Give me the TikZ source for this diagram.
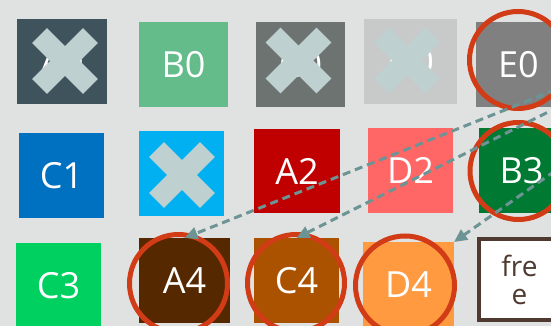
\documentclass[tikz,border=0pt]{standalone}
\usepackage{fontspec}
\setmainfont{Open Sans}
\usetikzlibrary{arrows.meta}

% Colours
\definecolor{cBack}{HTML}{E0E2E1}
\definecolor{cSlate}{HTML}{3F535C}
\definecolor{cMint}{HTML}{64BC8A}
\definecolor{cIron}{HTML}{6C7370}
\definecolor{cSilver}{HTML}{C8CACA}
\definecolor{cGrey}{HTML}{808080}
\definecolor{cBlue}{HTML}{0070C0}
\definecolor{cSky}{HTML}{00B0F0}
\definecolor{cRed}{HTML}{C00000}
\definecolor{cSalmon}{HTML}{FF6666}
\definecolor{cGreen}{HTML}{007A33}
\definecolor{cLime}{HTML}{00D060}
\definecolor{cBrown}{HTML}{552800}
\definecolor{cRust}{HTML}{AB5200}
\definecolor{cOrange}{HTML}{FF9A40}
\definecolor{cFree}{HTML}{4E3A30}
\definecolor{cCross}{HTML}{BFD0D0}
\definecolor{cRing}{HTML}{D13B16}
\definecolor{cMove}{HTML}{6C9494}

% X mark laid over a deleted block
\newcommand{\crossat}[1]{%
  \begin{scope}[shift={(#1)}]
    \fill[cCross, rotate=45] (-36,-10.5) rectangle (36,10.5);
    \fill[cCross, rotate=-45] (-36,-10.5) rectangle (36,10.5);
  \end{scope}}

\begin{document}
\begin{tikzpicture}[
  x=1pt, y=-1pt,
  box/.style={
    minimum width=87pt, minimum height=85pt, inner sep=0pt,
    outer sep=0pt, text=white, font=\fontsize{36}{40}\selectfont
  },
  ring/.style={draw=cRing, line width=5pt},
  move/.style={
    draw=cMove, line width=3pt, dash pattern=on 8pt off 5pt,
    -{Triangle[length=13pt, width=12pt]}
  }
]

  \useasboundingbox (0,0) rectangle (551,326);
  \clip (0,0) rectangle (551,326);
  \fill[cBack] (0,0) rectangle (551,326);

  % --- ROW 0 ---
  \node[box, fill=cSlate, minimum width=90pt] (a0) at (62,61.5) {A0};
  \node[box, fill=cMint, minimum width=89pt] (b0) at (183.5,64.5) {B0};
  \node[box, fill=cIron, minimum width=89pt] (c0) at (300.5,64.5) {C0};
  \node[box, fill=cSilver, minimum width=93pt] (d0) at (410.5,61.5) {D0};
  \node[box, fill=cGrey, minimum width=85pt] (e0) at (518.5,64.5) {E0};

  % --- ROW 1 ---
  \node[box, fill=cBlue, minimum width=85pt] (c1) at (61.5,175.5) {C1};
  \node[box, fill=cSky, minimum width=85pt] (b1) at (181.5,173.5) {};
  \node[box, fill=cRed, minimum width=86pt, minimum height=84pt] (a2) at (297,171) {A2};
  \node[box, fill=cSalmon, minimum width=85pt] (d2) at (410.5,170.5) {D2};
  \node[box, fill=cGreen, minimum width=85pt] (b3) at (521.5,170.5) {B3};

  % --- ROW 2 ---
  \node[box, fill=cLime, minimum width=85pt] (c3) at (58.5,285.5) {C3};
  \node[box, fill=cBrown, minimum width=91pt] (a4) at (184.5,280.5) {A4};
  \node[box, fill=cRust, minimum width=85pt] (c4) at (296.5,280.5) {C4};
  \node[box, fill=cOrange, minimum width=91pt] (d4) at (408.5,284.5) {D4};
  \node[box, fill=white, text=cFree, draw=cFree, line width=4pt,
    minimum width=81pt, minimum height=81pt, align=center,
    font=\fontsize{28}{28}\selectfont] (free) at (519.5,279.5) {fre\\e};

  % --- DELETED BLOCKS ---
  \crossat{65,61}
  \crossat{298.5,60.5}
  \crossat{407,60.5}
  \crossat{182,175}

  % --- RINGS ---
  \draw[ring] (518,60) circle[radius=48.5];
  \draw[ring] (518.5,171) circle[radius=48.5];
  \draw[ring] (178.5,283.5) circle[radius=49];
  \draw[ring] (296,283) circle[radius=48.5];
  \draw[ring] (405,285.5) circle[radius=49.5];

  % --- MOVES (sources lie right of the frame) ---
  \coordinate (srcA) at (640,56);
  \coordinate (srcC) at (640,66);
  \coordinate (srcD) at (640,111);
  \draw[move] (srcA) -- (a4.north);
  \draw[move] (srcC) -- (c4.north);
  \draw[move] (srcD) -- (d4.north east);

\end{tikzpicture}
\end{document}
